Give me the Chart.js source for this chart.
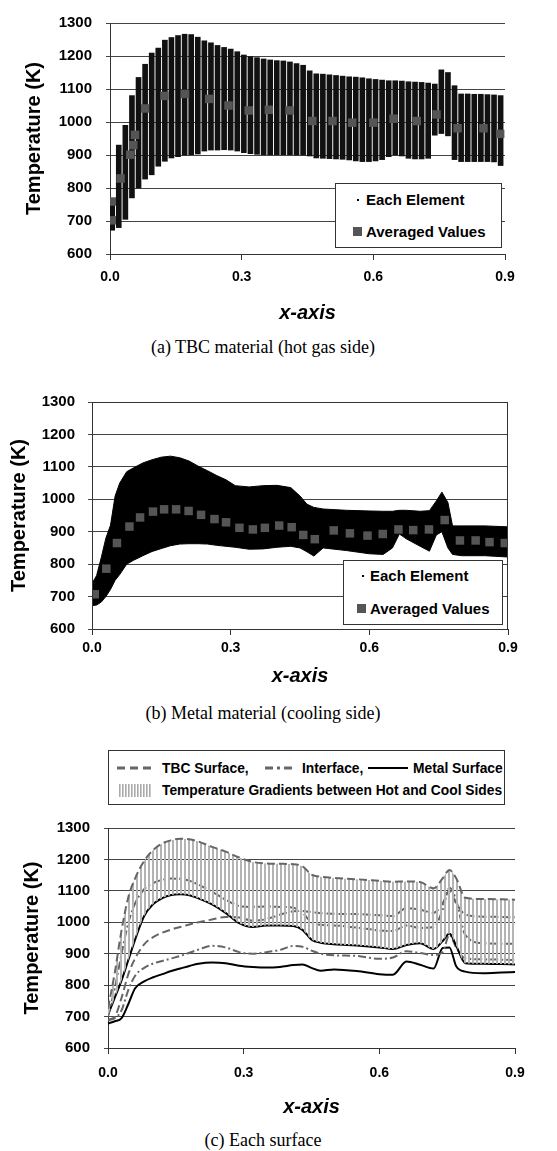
<!DOCTYPE html>
<html>
<head>
<meta charset="utf-8">
<script src="https://cdn.jsdelivr.net/npm/chart.js@4.4.0/dist/chart.umd.min.js"></script>
<style>
body { margin: 0; background: #fff; width: 557px; height: 1151px; position: relative; overflow: hidden; font-family: "Liberation Sans", Arial, sans-serif; }
canvas { position: absolute; left: 0; }
.cap { position: absolute; font-family: "Liberation Serif", "Times New Roman", serif; font-size: 18px; line-height: 1; color: #000; transform: translateX(-50%); white-space: nowrap; }
.leg { position: absolute; box-sizing: border-box; background: #fff; border: 1px solid #333; font-weight: bold; color: #000; z-index: 2; }
.leg span, .leg svg, .leg i { position: absolute; white-space: nowrap; line-height: 1; }
</style>
</head>
<body>
<canvas id="chartA" width="557" height="330" style="top:0"></canvas>
<canvas id="chartB" width="557" height="310" style="top:380px"></canvas>
<canvas id="chartC" width="557" height="320" style="top:805px"></canvas>

<div class="cap" style="left:263px;top:338px">(a) TBC material (hot gas side)</div>
<div class="cap" style="left:263px;top:704px">(b) Metal material (cooling side)</div>
<div class="cap" style="left:263px;top:1131px">(c) Each surface</div>

<div class="leg" style="left:335px;top:183px;width:167px;height:65px;font-size:15px">
  <i style="left:21px;top:15px;width:2px;height:2px;background:#000"></i>
  <span style="left:30px;top:8px">Each Element</span>
  <i style="left:17px;top:43px;width:9px;height:9px;background:#555"></i>
  <span style="left:30px;top:40px">Averaged Values</span>
</div>

<div class="leg" style="left:343px;top:560px;width:160px;height:65px;font-size:15px">
  <i style="left:18px;top:14px;width:2px;height:2px;background:#000"></i>
  <span style="left:26px;top:7px">Each Element</span>
  <i style="left:13px;top:43px;width:9px;height:9px;background:#555"></i>
  <span style="left:26px;top:40px">Averaged Values</span>
</div>

<div class="leg" style="left:108px;top:750px;width:397px;height:55px;font-size:13.8px">
  <svg style="left:8px;top:14px" width="37" height="6"><line x1="0" y1="3" x2="37" y2="3" stroke="#666" stroke-width="3" stroke-dasharray="8,5"/></svg>
  <span style="left:53px;top:11px">TBC Surface,</span>
  <svg style="left:156px;top:14px" width="29" height="6"><line x1="0" y1="3" x2="29" y2="3" stroke="#666" stroke-width="3" stroke-dasharray="8,4,3,4"/></svg>
  <span style="left:193px;top:11px">Interface,</span>
  <svg style="left:259px;top:14px" width="40" height="6"><line x1="0" y1="3" x2="40" y2="3" stroke="#000" stroke-width="2"/></svg>
  <span style="left:304px;top:11px">Metal Surface</span>
  <svg style="left:10px;top:33px" width="32" height="13"><pattern id="hp" width="3" height="13" patternUnits="userSpaceOnUse"><rect width="1.6" height="13" fill="#aaa"/></pattern><rect width="32" height="13" fill="url(#hp)"/></svg>
  <span style="left:53px;top:33px">Temperature Gradients between Hot and Cool Sides</span>
</div>

<script>
// (a) TBC material: vertical strips of element values and the averaged values
const aStripX = [0.005, 0.02, 0.035, 0.05, 0.065, 0.08, 0.095, 0.11, 0.125, 0.14,
  0.155, 0.17, 0.185, 0.2, 0.215, 0.23, 0.245, 0.26, 0.275, 0.29,
  0.305, 0.32, 0.335, 0.35, 0.365, 0.38, 0.395, 0.41, 0.425, 0.44,
  0.455, 0.47, 0.485, 0.5, 0.515, 0.53, 0.545, 0.56, 0.575, 0.59,
  0.605, 0.62, 0.635, 0.65, 0.665, 0.68, 0.695, 0.71, 0.725, 0.74,
  0.755, 0.77, 0.785, 0.8, 0.815, 0.83, 0.845, 0.86, 0.875, 0.89];
const aStripHigh = [760, 930, 990, 1080, 1135, 1175, 1209, 1224, 1248, 1256,
  1262, 1266, 1265, 1257, 1246, 1240, 1232, 1226, 1221, 1213,
  1203, 1198, 1195, 1191, 1188, 1186, 1185, 1182, 1177, 1172,
  1155, 1146, 1145, 1143, 1141, 1139, 1137, 1136, 1134, 1131,
  1129, 1127, 1125, 1125, 1124, 1122, 1121, 1120, 1118, 1115,
  1158, 1150, 1110, 1085, 1085, 1084, 1084, 1083, 1082, 1080];
const aStripLow = [672, 680, 705, 770, 800, 827, 840, 866, 881, 891,
  895, 900, 901, 903, 912, 915, 915, 916, 915, 912,
  907, 904, 902, 901, 901, 901, 901, 901, 900, 900,
  897, 891, 890, 889, 888, 887, 885, 882, 880, 880,
  882, 886, 895, 900, 897, 890, 888, 888, 890, 960,
  965, 958, 886, 880, 880, 880, 880, 880, 879, 868];
const aAvgX = [0.004, 0.004, 0.024, 0.046, 0.053, 0.057, 0.080, 0.124, 0.171, 0.226, 0.270, 0.316,
  0.362, 0.409, 0.461, 0.507, 0.552, 0.600, 0.646, 0.699, 0.744, 0.792, 0.851, 0.889];
const aAvgY = [702, 759, 829, 901, 930, 961, 1041, 1079, 1085, 1070, 1050, 1035,
  1037, 1035, 1003, 1003, 998, 998, 1010, 1003, 1023, 981, 981, 964];

// (b) Metal material: envelope of the element cloud and the averaged values
const bEnvX = [0, 0.01, 0.02, 0.03, 0.04, 0.05, 0.06, 0.075, 0.09,
  0.11, 0.13, 0.15, 0.17, 0.19, 0.21, 0.23, 0.25, 0.27, 0.29,
  0.31, 0.34, 0.37, 0.4, 0.43, 0.45, 0.465, 0.48, 0.5,
  0.55, 0.6, 0.63, 0.65, 0.665, 0.68, 0.71, 0.73, 0.745, 0.757,
  0.77, 0.78, 0.8, 0.85, 0.9];
const bUpper = [740, 765, 820, 880, 920, 1010, 1050, 1085, 1097,
  1112, 1122, 1130, 1133, 1128, 1118, 1102, 1088, 1073, 1060,
  1042, 1038, 1042, 1043, 1036, 1010, 985, 975, 970,
  966, 964, 963, 963, 966, 966, 963, 965, 995, 1022,
  990, 918, 918, 918, 915];
const bLower = [672, 674, 683, 700, 722, 750, 768, 800, 812,
  826, 839, 848, 857, 862, 863, 863, 862, 858, 855,
  852, 846, 847, 852, 855, 850, 838, 825, 850,
  842, 832, 830, 850, 893, 878, 855, 840, 890, 900,
  850, 830, 826, 826, 822];
const bAvgX = [0.006, 0.031, 0.054, 0.081, 0.104, 0.132, 0.156, 0.182, 0.209, 0.236, 0.265,
  0.290, 0.319, 0.348, 0.374, 0.405, 0.432, 0.457, 0.482, 0.523, 0.558, 0.596,
  0.629, 0.663, 0.695, 0.729, 0.763, 0.796, 0.830, 0.860, 0.893];
const bAvgY = [707, 786, 865, 916, 944, 962, 969, 969, 964, 952, 939,
  929, 912, 907, 912, 919, 914, 890, 877, 904, 895, 888,
  893, 907, 905, 907, 936, 873, 873, 868, 865];

// (c) each surface, hot side and cool side of each layer
const cX = [0, 0.015, 0.03, 0.045, 0.06, 0.08, 0.1, 0.12, 0.14, 0.16,
  0.18, 0.2, 0.23, 0.26, 0.29, 0.32, 0.35, 0.38, 0.41,
  0.43, 0.45, 0.47, 0.5, 0.55, 0.6, 0.63, 0.66, 0.69, 0.72,
  0.74, 0.755, 0.77, 0.79, 0.83, 0.87, 0.9];
const cTbcHot = [725, 840, 975, 1080, 1140, 1195, 1230, 1251, 1261, 1266,
  1264, 1257, 1240, 1225, 1206, 1192, 1187, 1186, 1185,
  1178, 1152, 1145, 1141, 1137, 1132, 1129, 1130, 1128, 1108,
  1140, 1166, 1140, 1078, 1074, 1073, 1072];
const cIntHot = [700, 790, 900, 998, 1060, 1105, 1125, 1135, 1139, 1138,
  1132, 1120, 1097, 1072, 1052, 1049, 1050, 1049, 1046,
  1030, 1000, 992, 990, 983, 974, 972, 990, 982, 985,
  1040, 1110, 1070, 960, 933, 932, 932];
const cMetalHot = [705, 760, 815, 880, 945, 1020, 1058, 1077, 1087, 1089,
  1086, 1076, 1057, 1030, 997, 985, 990, 990, 988,
  976, 945, 935, 930, 926, 920, 915, 928, 933, 915,
  940, 964, 925, 870, 868, 867, 866];
const cTbcCool = [690, 700, 760, 835, 885, 930, 953, 967, 977, 985,
  993, 1000, 1009, 1017, 1015, 1005, 1010, 1024, 1035,
  1036, 1032, 1029, 1027, 1026, 1022, 1020, 1045, 1040, 1030,
  1060, 1100, 1060, 1025, 1018, 1017, 1016];
const cIntCool = [688, 695, 720, 785, 830, 855, 869, 877, 885, 893,
  903, 913, 925, 920, 905, 900, 905, 912, 925,
  922, 910, 900, 895, 893, 884, 888, 908, 902, 896,
  905, 960, 920, 885, 882, 881, 880];
const cMetalCool = [678, 685, 695, 740, 790, 812, 825, 835, 845, 853,
  861, 868, 872, 870, 862, 858, 856, 858, 864,
  866, 855, 846, 850, 845, 835, 833, 875, 865, 853,
  918, 920, 860, 843, 838, 840, 842];

const FONT = '"Liberation Sans", Arial, sans-serif';
Chart.defaults.font.family = FONT;
Chart.defaults.color = '#000';
Chart.defaults.animation = false;

const pts = (xs, ys) => xs.map((x, i) => ({x: x, y: ys[i]}));

/* box round the plot area, only where the original has one */
const frame = {
  id: 'frame',
  afterDatasetsDraw(chart, args, opts) {
    if (!opts.on) return;
    const a = chart.chartArea, ctx = chart.ctx;
    ctx.save();
    ctx.strokeStyle = '#333';
    ctx.lineWidth = 1;
    ctx.strokeRect(Math.round(a.left) + 0.5, Math.round(a.top) + 0.5, Math.round(a.right - a.left) - 1, Math.round(a.bottom - a.top));
    ctx.restore();
  }
};

function yAxis(width, titlePad, tickPad) {
  return {
    min: 600, max: 1300,
    ticks: {stepSize: 100, padding: tickPad, font: {size: 15, weight: 'bold'}, callback: v => String(v)},
    grid: {color: '#444', lineWidth: 1, tickLength: 4},
    border: {color: '#333'},
    title: {display: true, text: 'Temperature (K)', font: {size: 20, weight: 'bold'}, padding: {top: titlePad, bottom: 0}},
    afterFit: s => { s.width = width; }
  };
}
function xAxis(height, tickPad, titlePad) {
  return {
    type: 'linear', min: 0, max: 0.9, offset: false,
    ticks: {stepSize: 0.3, padding: tickPad, maxRotation: 0, font: {size: 14, weight: 'bold'},
      callback: v => Number(v).toFixed(1)},
    grid: {drawOnChartArea: false, offset: false, color: '#333', tickLength: 6},
    border: {color: '#333'},
    title: {display: true, text: 'x-axis', font: {size: 20, weight: 'bold', style: 'italic'}, padding: {top: 0, bottom: titlePad}},
    afterFit: s => { s.height = height; }
  };
}
const avgSet = (xs, ys) => ({
  type: 'line', label: 'Averaged Values', data: pts(xs, ys), showLine: false,
  pointStyle: 'rect', pointRadius: 6, pointBackgroundColor: '#555', pointBorderWidth: 0
});

// chart (a)
new Chart(document.getElementById('chartA'), {
  type: 'bar',
  data: {
    datasets: [
      avgSet(aAvgX, aAvgY),
      {
        type: 'bar', label: 'Each Element',
        data: aStripX.map((x, i) => ({x: x, y: [aStripLow[i], aStripHigh[i]]})),
        backgroundColor: '#111', barThickness: 5, borderWidth: 0
      }
    ]
  },
  options: {
    responsive: false,
    layout: {padding: {top: 16, right: 52, left: 0, bottom: 0}},
    scales: {x: xAxis(76, 9, 5), y: yAxis(110, 22, 14)},
    plugins: {legend: {display: false}, tooltip: {enabled: false}, frame: {on: false}}
  },
  plugins: [frame]
});

// chart (b)
new Chart(document.getElementById('chartB'), {
  type: 'line',
  data: {
    datasets: [
      avgSet(bAvgX, bAvgY),
      {label: 'lower', data: pts(bEnvX, bLower), borderColor: '#000', borderWidth: 1, pointRadius: 0, fill: false},
      {label: 'Each Element', data: pts(bEnvX, bUpper), borderColor: '#000', borderWidth: 1, pointRadius: 0,
        fill: '-1', backgroundColor: '#000'}
    ]
  },
  options: {
    responsive: false,
    layout: {padding: {top: 13, right: 49, left: 0, bottom: 0}},
    scales: {x: xAxis(61, 5, 2), y: yAxis(92, 7, 13)},
    plugins: {legend: {display: false}, tooltip: {enabled: false}, frame: {on: true}}
  },
  plugins: [frame]
});

// chart (c)
const stripeCanvas = document.createElement('canvas');
stripeCanvas.width = 4; stripeCanvas.height = 4;
const sctx = stripeCanvas.getContext('2d');
sctx.fillStyle = '#b4b4b4';
sctx.fillRect(0, 0, 2, 4);
const stripes = sctx.createPattern(stripeCanvas, 'repeat');

const lineSet = (label, ys, color, dash, width) => ({
  label: label, data: pts(cX, ys), borderColor: color, borderDash: dash, borderWidth: width,
  pointRadius: 0, fill: false, cubicInterpolationMode: 'monotone'
});
const tbcHot = lineSet('TBC Surface', cTbcHot, '#666', [8, 4], 2);
tbcHot.fill = {target: 2};
tbcHot.backgroundColor = stripes;

new Chart(document.getElementById('chartC'), {
  type: 'line',
  data: {
    datasets: [
      tbcHot,
      lineSet('Interface', cIntHot, '#666', [8, 3, 2, 3], 2),
      lineSet('Metal Surface', cMetalHot, '#000', [], 2),
      lineSet('TBC Surface cool', cTbcCool, '#666', [8, 4], 2),
      lineSet('Interface cool', cIntCool, '#666', [8, 3, 2, 3], 2),
      lineSet('Metal Surface cool', cMetalCool, '#000', [], 2)
    ]
  },
  options: {
    responsive: false,
    layout: {padding: {top: 12, right: 42, left: 0, bottom: 0}},
    scales: {x: xAxis(77, 11, 6), y: yAxis(108, 20, 14)},
    plugins: {legend: {display: false}, tooltip: {enabled: false}, frame: {on: false}}
  },
  plugins: [frame]
});
</script>
</body>
</html>
